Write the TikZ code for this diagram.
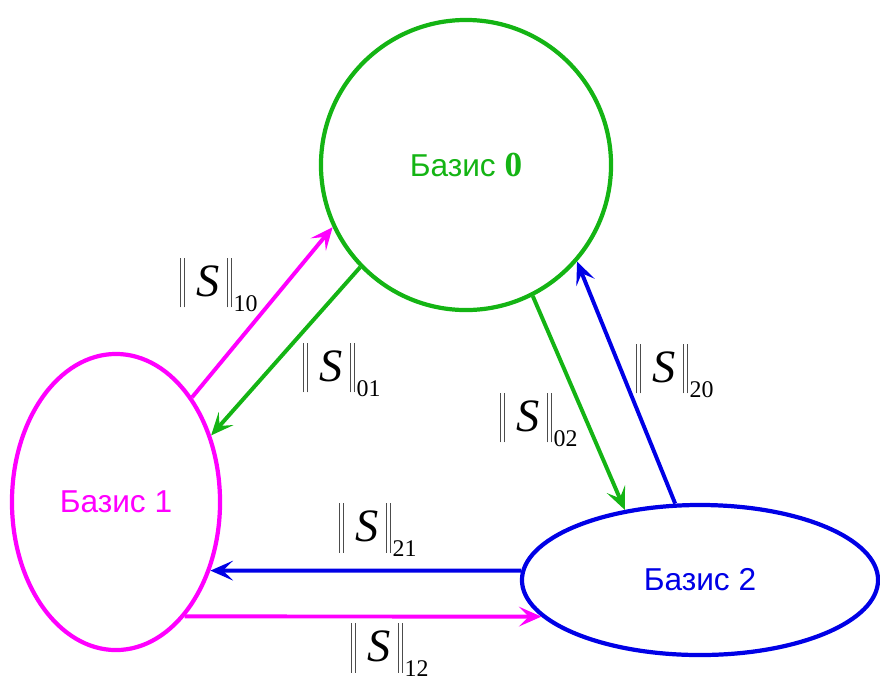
\documentclass[tikz,border=0pt]{standalone}
\usepackage{fontspec}
\setmainfont{Liberation Sans}
\newfontfamily\tnr{Liberation Serif}
\usetikzlibrary{shapes.geometric,arrows.meta}
\definecolor{bgreen}{RGB}{20,180,20}
\definecolor{bmagenta}{RGB}{255,0,255}
\definecolor{bblue}{RGB}{0,0,230}
\newcommand\twobars{\textcolor{black!70}{\rule[-8pt]{0.7pt}{35pt}\hspace{2pt}\rule[-8pt]{0.7pt}{35pt}}}
\newcommand\nrm[1]{\twobars\hspace{8pt}{\fontsize{33}{33}\selectfont\tnr\itshape S}\hspace{5pt}\twobars\hspace{1.5pt}\raisebox{-11pt}{\fontsize{17}{17}\selectfont\tnr #1}}
\begin{document}
\begin{tikzpicture}[x=0.025cm,y=-0.025cm,
  basis/.style={draw=#1,text=#1,line width=3pt,inner sep=0pt,font=\fontsize{22.5}{22.5}\selectfont},
  link/.style={line width=2.8pt,-{Stealth[length=16pt,width=14pt,inset=7pt]}},
  lbl/.style={inner sep=0pt}]
  \useasboundingbox (0,0) rectangle (880,680);
  \node[basis=bgreen,circle,minimum size=7.25cm] (b0) at (466,165) {Базис {\tnr\bfseries\fontsize{25}{25}\selectfont 0}};
  \node[basis=bmagenta,ellipse,minimum width=5.2cm,minimum height=7.4cm] (b1) at (116,502) {Базис 1};
  \node[basis=bblue,ellipse,minimum width=8.9cm,minimum height=3.75cm] (b2) at (700,580) {Базис 2};
  \draw[link,bmagenta] (b1.54) -- (b0.205.7);
  \draw[link,bgreen] (b0.224) -- (b1.35.5);
  \draw[link,bgreen] (b0.297.6) -- (b2.137.7);
  \draw[link,bblue] (b2.108.9) -- (b0.319.4);
  \draw[link,bblue] (b2.177.2) -- (b1.324.0);
  \draw[link,bmagenta] (b1.301.5) -- (b2.193.3);
  \foreach \i/\x/\y in {10/219/285, 01/342/370, 02/539/420, 20/675/371, 21/378/530, 12/390/650} {
    \node[lbl] (s\i) at (\x,\y) {\nrm{\i}};
  }
\end{tikzpicture}
\end{document}
